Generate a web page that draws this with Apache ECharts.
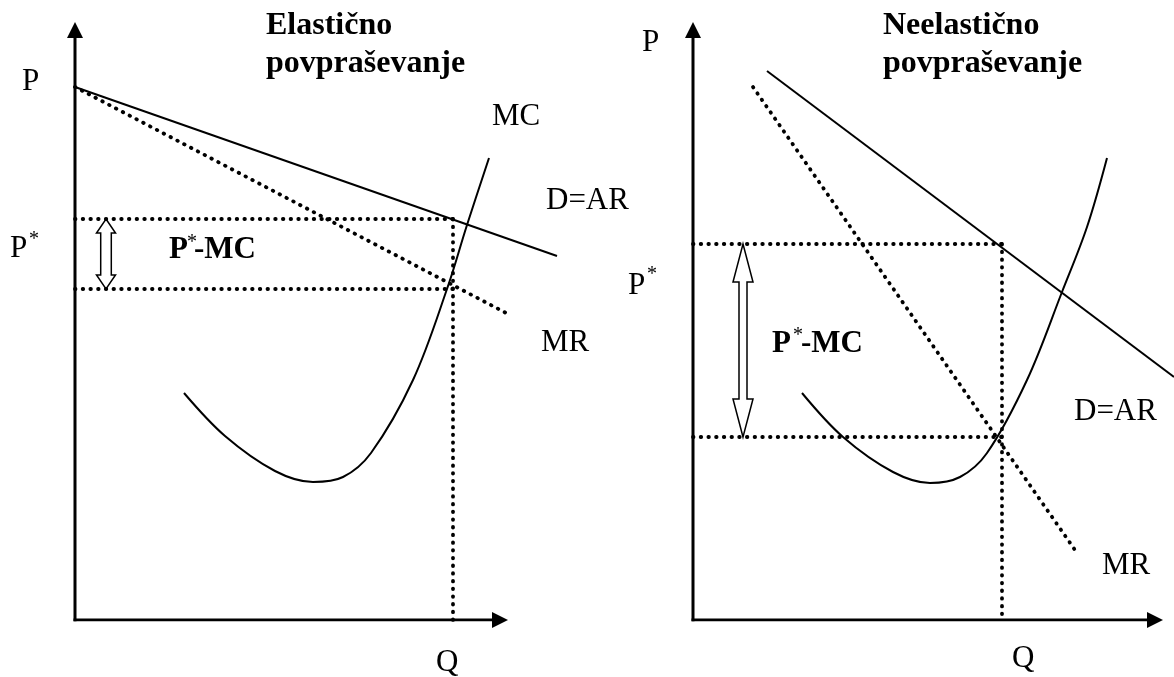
<!DOCTYPE html>
<html lang="sl">
<head>
<meta charset="UTF-8">
<title>Elastično in neelastično povpraševanje</title>
<script src="https://cdn.jsdelivr.net/npm/echarts@6/dist/echarts.min.js"></script>
<style>
	html,body{margin:0;padding:0;background:#fff;}
	#chart{width:1174px;height:677px;}
</style>
</head>
<body>
<div id="chart"></div>
<script>
// levo: elasticno povprasevanje (enote od izhodisca)
var leftDemand = [[0, 533], [482, 364]];
var leftMR = [[0, 533], [433, 306]];
var leftMC = [[109, 227], [150, 184], [200, 149], [238, 138], [268, 143], [296, 167], [338, 240], [372, 331], [392, 395], [414, 462]];
var leftQ = 378, leftPrice = 401, leftCost = 331;
var leftAxisEnd = [425, 590]; // konec osi x in y (sredina puscice)

// desno: neelasticno povprasevanje
var rightDemand = [[74, 549], [481, 243]];
var rightMR = [[60, 533], [382, 70]];
var rightMC = [[109, 227], [150, 183], [200, 148], [237, 137], [267, 143], [294, 167], [334, 240], [369, 328], [394, 393], [414, 462]];
var rightQ = 309, rightPrice = 376, rightCost = 183;
var rightAxisEnd = [462, 590];

var SERIF = '"Liberation Serif", "Times New Roman", serif';

var chart = echarts.init(document.getElementById('chart'));

function hiddenAxis(idx, max) {
	return {type: 'value', gridIndex: idx, min: 0, max: max,
		axisLine: {show: false}, axisTick: {show: false}, axisLabel: {show: false}, splitLine: {show: false}};
}

// os s polno puscico na koncu
function axisArrow(idx, end, rot) {
	return {type: 'line', xAxisIndex: idx, yAxisIndex: idx, silent: true,
		showSymbol: true, symbolSize: 16,
		data: [{value: [0, 0], symbol: 'none'}, {value: end, symbol: 'triangle', symbolRotate: rot}],
		itemStyle: {color: '#000'},
		lineStyle: {color: '#000', width: 3, cap: 'square'}};
}
function solid(idx, data, smooth) {
	return {type: 'line', xAxisIndex: idx, yAxisIndex: idx, data: data, smooth: smooth || false,
		showSymbol: false, clip: false, silent: true,
		lineStyle: {color: '#000', width: 2}};
}
function dotted(idx, data) {
	return {type: 'line', xAxisIndex: idx, yAxisIndex: idx, data: data,
		showSymbol: false, clip: false, silent: true,
		lineStyle: {color: '#000', width: 3.8, type: [0.5, 7.2], cap: 'round'}};
}
// votla dvojna puscica
function doubleArrow(idx, data, hw, hl, sw) {
	return {
		type: 'custom', xAxisIndex: idx, yAxisIndex: idx, data: data, clip: false, silent: true,
		renderItem: function (params, api) {
			var a = api.coord([api.value(0), api.value(1)]);
			var b = api.coord([api.value(0), api.value(2)]);
			var cx = a[0], t = a[1], d = b[1];
			return {
				type: 'polygon',
				shape: {points: [
					[cx, t], [cx + hw, t + hl], [cx + sw, t + hl], [cx + sw, d - hl], [cx + hw, d - hl],
					[cx, d], [cx - hw, d - hl], [cx - sw, d - hl], [cx - sw, t + hl], [cx - hw, t + hl]
				]},
				style: {fill: '#fff', stroke: '#000', lineWidth: 1.5}
			};
		}
	};
}

function txt(x, y, s, size, bold) {
	return {
		type: 'text', x: x, y: y, silent: true,
		style: {
			text: s, font: (bold ? 'bold ' : '') + size + 'px ' + SERIF, fill: '#000',
			align: 'left', verticalAlign: 'middle', textAlign: 'left', textVerticalAlign: 'middle'
		}
	};
}

var option = {
	animation: false,
	backgroundColor: '#fff',
	grid: [
		{left: 75, top: 22, width: 482, height: 598},
		{left: 693, top: 22, width: 481, height: 598}
	],
	xAxis: [hiddenAxis(0, 482), hiddenAxis(1, 481)],
	yAxis: [hiddenAxis(0, 598), hiddenAxis(1, 598)],
	series: [
		axisArrow(0, [0, leftAxisEnd[1]], 0),
		axisArrow(0, [leftAxisEnd[0], 0], -90),
		solid(0, leftDemand),
		dotted(0, leftMR),
		solid(0, leftMC, 0.35),
		dotted(0, [[0, leftPrice], [leftQ, leftPrice]]),
		dotted(0, [[0, leftCost], [leftQ, leftCost]]),
		dotted(0, [[leftQ, leftPrice], [leftQ, 0]]),
		doubleArrow(0, [[31, leftPrice, leftCost]], 9.5, 14, 5.3),

		axisArrow(1, [0, rightAxisEnd[1]], 0),
		axisArrow(1, [rightAxisEnd[0], 0], -90),
		solid(1, rightDemand),
		dotted(1, rightMR),
		solid(1, rightMC, 0.35),
		dotted(1, [[0, rightPrice], [rightQ, rightPrice]]),
		dotted(1, [[0, rightCost], [rightQ, rightCost]]),
		dotted(1, [[rightQ, rightPrice], [rightQ, 0]]),
		doubleArrow(1, [[50, rightPrice, rightCost]], 10, 38, 4)
	],
	graphic: [
		// levi del
		txt(266, 25.5, 'Elastično', 32, true),
		txt(266, 63.5, 'povpraševanje', 32, true),
		txt(22, 82, 'P', 31),
		txt(10, 249, 'P', 31),
		txt(29, 240, '*', 20),
		txt(169, 249.5, 'P', 31, true),
		txt(187, 243, '*', 20),
		txt(194, 249.5, '-MC', 31, true),
		txt(492, 117, 'MC', 31),
		txt(546, 201, 'D=AR', 31),
		txt(541, 343, 'MR', 31),
		txt(436, 663, 'Q', 31),
		// desni del
		txt(883, 25.5, 'Neelastično', 32, true),
		txt(883, 63.5, 'povpraševanje', 32, true),
		txt(642, 43, 'P', 31),
		txt(628, 286, 'P', 31),
		txt(647, 275, '*', 20),
		txt(772, 343.5, 'P', 31, true),
		txt(793, 336, '*', 20),
		txt(801, 343.5, '-MC', 31, true),
		txt(1074, 412, 'D=AR', 31),
		txt(1102, 566, 'MR', 31),
		txt(1012, 659, 'Q', 31)
	]
};
chart.setOption(option);
</script>
</body>
</html>
